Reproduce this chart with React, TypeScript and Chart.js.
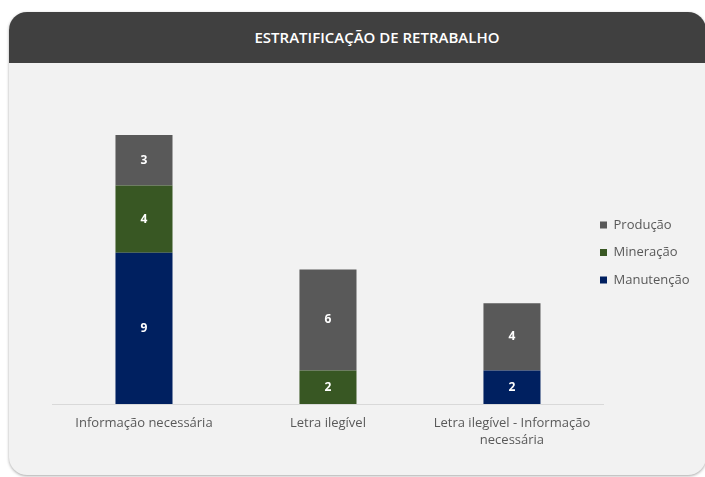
import React, { useEffect, useRef } from 'react';
import { Chart, registerables } from 'chart.js';

Chart.register(...registerables);

const title = 'ESTRATIFICAÇÃO DE RETRABALHO';
const categories: string[][] = [
  ['Informação necessária'],
  ['Letra ilegível'],
  ['Letra ilegível - Informação', 'necessária'],
];
const seriesNames = ['Manutenção', 'Mineração', 'Produção'];
const manutencao = [9, 0, 2];
const mineracao = [4, 2, 0];
const producao = [3, 6, 4];
const seriesColors = ['#002060', '#385723', '#595959'];
const yMax = 18;

const FONT = '"Open Sans", "DejaVu Sans", sans-serif';
const TEXT_COLOR = '#595959';
const LEGEND_BOX_X = 600;
const LEGEND_FIRST_TOP = 218.5;

const valueLabels = {
  id: 'valueLabels',
  afterDatasetsDraw(chart: any) {
    const ctx = chart.ctx;
    ctx.save();
    ctx.font = `bold 12px ${FONT}`;
    ctx.fillStyle = '#ffffff';
    ctx.textAlign = 'center';
    ctx.textBaseline = 'middle';
    chart.data.datasets.forEach((ds: any, i: number) => {
      const meta = chart.getDatasetMeta(i);
      meta.data.forEach((el: any, j: number) => {
        const v = ds.data[j];
        if (!v) return;
        const { x, y, base } = el.getProps(['x', 'y', 'base'], true);
        ctx.fillText(String(v), x, (y + base) / 2);
      });
    });
    ctx.restore();
  },
};

const legendPlacer = {
  id: 'legendPlacer',
  afterLayout(chart: any) {
    const lg = chart.legend;
    if (!lg) return;
    const pad = lg.options.labels.padding;
    const dx = LEGEND_BOX_X - (lg.left + pad);
    const dy = LEGEND_FIRST_TOP - (lg.top + pad);
    lg.left += dx;
    lg.right += dx;
    lg.top += dy;
    lg.bottom += dy;
  },
};

export default function App() {
  const canvasRef = useRef<HTMLCanvasElement | null>(null);

  useEffect(() => {
    if (!canvasRef.current) return;
    const values = [manutencao, mineracao, producao];
    const chart = new Chart(canvasRef.current, {
      type: 'bar',
      data: {
        labels: categories,
        datasets: seriesNames.map((name, i) => ({
          label: name,
          data: values[i],
          backgroundColor: seriesColors[i],
          borderWidth: 0,
          barPercentage: 0.31,
          categoryPercentage: 1,
        })),
      },
      options: {
        animation: false,
        responsive: false,
        devicePixelRatio: 1,
        layout: { padding: { left: 52, right: 22, top: 101.5, bottom: 18.2 } },
        font: { family: FONT },
        scales: {
          x: {
            stacked: true,
            grid: { display: false, drawTicks: false },
            border: { display: true, color: '#d9d9d9', width: 1 },
            ticks: {
              color: TEXT_COLOR,
              padding: 10.5,
              maxRotation: 0,
              autoSkip: false,
              font: { family: FONT, size: 13, lineHeight: 1.3 },
            },
          },
          y: {
            stacked: true,
            display: false,
            min: 0,
            max: yMax,
          },
        },
        plugins: {
          legend: {
            position: 'right',
            align: 'start',
            reverse: true,
            labels: {
              boxWidth: 7,
              boxHeight: 7,
              padding: 14.5,
              color: TEXT_COLOR,
              font: { family: FONT, size: 13 },
            },
          },
          tooltip: { enabled: false },
          title: { display: false },
        },
      },
      plugins: [valueLabels, legendPlacer],
    } as any);
    return () => chart.destroy();
  }, []);

  return (
    <div
      style={{
        position: 'absolute',
        left: 0,
        top: 0,
        width: 705,
        height: 477,
        overflow: 'hidden',
        background: '#ffffff',
      }}
    >
      <div
        style={{
          position: 'absolute',
          left: 9,
          top: 12,
          width: 697,
          height: 463,
          borderRadius: 18,
          background: '#f2f2f2',
          boxShadow: '0 1px 3px rgba(0,0,0,0.35)',
          overflow: 'hidden',
        }}
      >
        <div
          style={{
            height: 51,
            background: '#404040',
            color: '#ffffff',
            fontFamily: FONT,
            fontWeight: 600,
            fontSize: 15,
            lineHeight: '50px',
            textAlign: 'center',
            paddingLeft: 39,
          }}
        >
          {title}
        </div>
      </div>
      <canvas
        ref={canvasRef}
        width={740}
        height={477}
        style={{ position: 'absolute', left: 0, top: 0, width: 740, height: 477 }}
      />
    </div>
  );
}
